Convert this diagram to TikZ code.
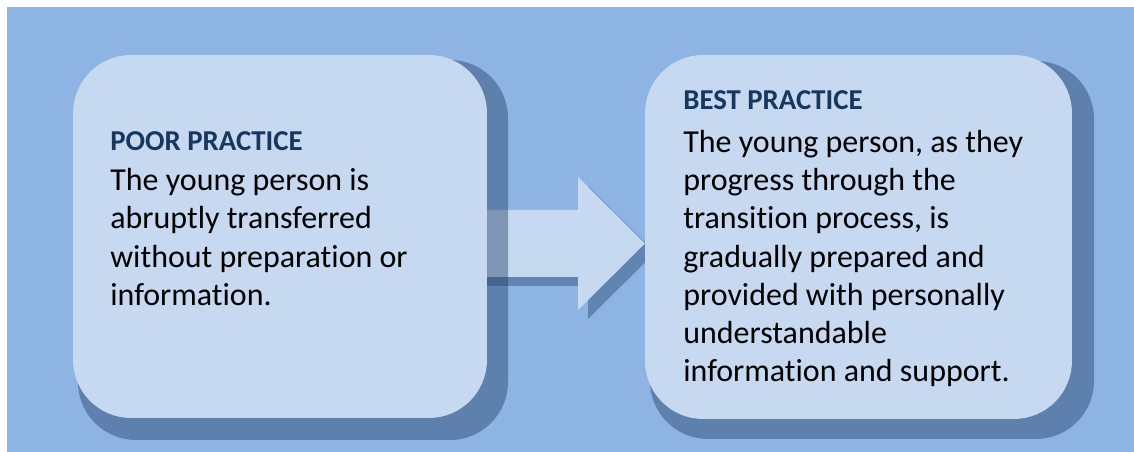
\documentclass[tikz,border=0pt]{standalone}
\usepackage{fontspec}
\setmainfont{Carlito}[Ligatures=NoCommon]
\usetikzlibrary{calc}
\definecolor{backblue}{HTML}{8EB4E3}
\definecolor{boxblue}{HTML}{C6D9F1}
\definecolor{shadeblue}{RGB}{33,61,104}
\definecolor{titleblue}{HTML}{17375E}
\tikzset{
	box/.style={fill=boxblue,rounded corners=1.16cm,inner sep=0pt},
	boxshade/.style={fill=shadeblue,fill opacity=0.43,rounded corners=1.16cm},
	arrowshade/.style={fill=shadeblue,fill opacity=0.4},
	boxtitle/.style={anchor=base west,inner sep=0pt,text=titleblue,font=\fontsize{16.4}{19}\selectfont\bfseries},
	boxtext/.style={anchor=base west,inner sep=0pt,align=left,font=\fontsize{18.2}{21.8}\selectfont}
}
\begin{document}
\begin{tikzpicture}[x=0.02cm,y=-0.02cm]
	\useasboundingbox (0,0) rectangle (1134,452);
	\fill [backblue] (7,7) rectangle (1134,452);

	\coordinate (poorc) at (280,236.5);
	\coordinate (bestc) at (858.5,237);

	\fill [boxshade] ($(bestc)+(-208.5,-176)$) rectangle ($(bestc)+(235.5,202)$);
	\fill [arrowshade] (480,219) -- (588,219) -- (588,186) -- (655,252.5) -- (588,319) -- (588,286) -- (480,286) -- cycle;
	\fill [boxblue] (470,210) -- (578,210) -- (578,177) -- (645,243.5) -- (578,310) -- (578,277) -- (470,277) -- cycle;
	\fill [boxshade] ($(poorc)+(-202,-176.5)$) rectangle ($(poorc)+(228,203.5)$);

	\node [box,minimum width=8.28cm,minimum height=7.26cm] (poor) at (poorc) {};
	\node [box,minimum width=8.54cm,minimum height=7.28cm] (best) at (bestc) {};

	\node [boxtitle] (poortitle) at (110,151) {POOR PRACTICE};
	\node [boxtext] (poortext) at (110,305.5) {The young person is\\abruptly transferred\\without preparation or\\information.};
	\node [boxtitle] (besttitle) at (683,110) {BEST PRACTICE};
	\node [boxtext] (besttext) at (683,382) {The young person, as they\\progress through the\\transition process, is\\gradually prepared and\\provided with personally\\understandable\\information and support.};
\end{tikzpicture}
\end{document}
